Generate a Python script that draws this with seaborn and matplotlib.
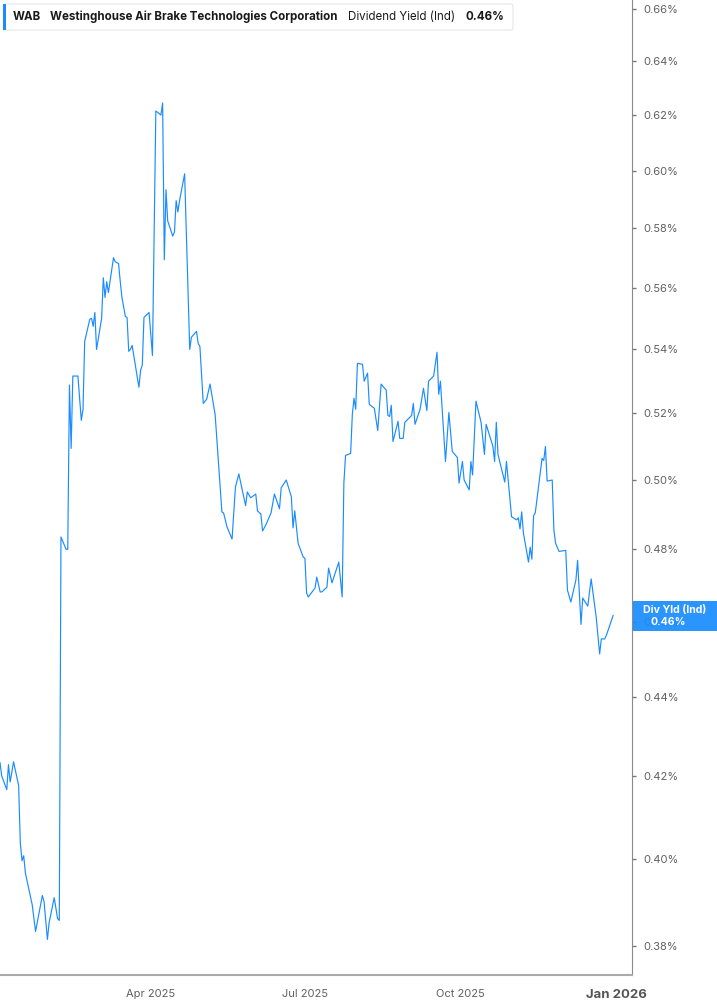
import matplotlib
matplotlib.use("Agg")
import matplotlib.pyplot as plt
import matplotlib.ticker as mticker
from matplotlib.patches import FancyBboxPatch, Rectangle
import seaborn as sns
import pandas as pd

# days since 2025-01-01 and dividend yield (%)
days = [1, 2, 5, 6, 7, 9, 12, 13, 14, 15, 16, 20, 22, 26, 27, 29, 30, 33, 35, 36,
        37, 40, 41, 42, 43, 44, 47, 49, 50, 51, 54, 55, 56, 57, 58, 61, 62, 63, 64, 65,
        68, 69, 71, 72, 73, 75, 76, 77, 78, 79, 83, 84, 85, 86, 89, 91, 93, 96, 97, 98,
        99, 100, 103, 104, 105, 106, 107, 110, 113, 114, 117, 118, 119, 121, 123, 125, 128, 132, 133, 135,
        138, 140, 142, 146, 147, 149, 152, 153, 155, 156, 158, 161, 163, 166, 167, 170, 173, 174, 175, 177,
        180, 181, 182, 183, 187, 188, 190, 191, 194, 195, 197, 201, 203, 204, 205, 208, 209, 210, 211, 212,
        215, 216, 218, 219, 222, 224, 226, 229, 230, 231, 232, 233, 236, 237, 239, 240, 244, 245, 246, 249,
        251, 253, 254, 257, 259, 260, 261, 264, 266, 268, 271, 272, 274, 275, 278, 279, 280, 282, 285, 287,
        288, 292, 293, 294, 295, 299, 300, 303, 306, 307, 308, 309, 310, 313, 314, 315, 316, 317, 321, 322,
        323, 324, 327, 328, 329, 331, 335, 336, 338, 341, 342, 344, 345, 348, 350, 353, 355, 356, 358, 359,
        363]
div_yield = [0.4233, 0.4200, 0.4166, 0.4228, 0.4185, 0.4235, 0.4176, 0.4037, 0.3995, 0.4007,
             0.3966, 0.3893, 0.3832, 0.3914, 0.3900, 0.3814, 0.3852, 0.3909, 0.3861, 0.3857,
             0.4835, 0.4800, 0.4800, 0.5288, 0.5094, 0.5316, 0.5316, 0.5179, 0.5213, 0.5426,
             0.5497, 0.5500, 0.5474, 0.5519, 0.5400, 0.5500, 0.5633, 0.5568, 0.5620, 0.5584,
             0.5700, 0.5687, 0.5680, 0.5620, 0.5568, 0.5506, 0.5503, 0.5394, 0.5400, 0.5413,
             0.5281, 0.5334, 0.5350, 0.5503, 0.5519, 0.5381, 0.6215, 0.6200, 0.6244, 0.5693,
             0.5933, 0.5825, 0.5773, 0.5787, 0.5895, 0.5856, 0.5895, 0.5989, 0.5400, 0.5439,
             0.5458, 0.5419, 0.5410, 0.5231, 0.5244, 0.5291, 0.5197, 0.4907, 0.4904, 0.4864,
             0.4829, 0.4980, 0.5018, 0.4925, 0.4965, 0.4948, 0.4959, 0.4910, 0.4901, 0.4852,
             0.4870, 0.4904, 0.4959, 0.4916, 0.4977, 0.5000, 0.4951, 0.4861, 0.4910, 0.4817,
             0.4778, 0.4775, 0.4678, 0.4667, 0.4692, 0.4722, 0.4681, 0.4681, 0.4694, 0.4747,
             0.4706, 0.4764, 0.4667, 0.4991, 0.5073, 0.5079, 0.5197, 0.5247, 0.5213, 0.5356,
             0.5353, 0.5300, 0.5325, 0.5228, 0.5216, 0.5148, 0.5291, 0.5272, 0.5194, 0.5191,
             0.5225, 0.5115, 0.5176, 0.5124, 0.5124, 0.5173, 0.5194, 0.5231, 0.5167, 0.5213,
             0.5278, 0.5209, 0.5300, 0.5316, 0.5391, 0.5259, 0.5300, 0.5055, 0.5203, 0.5085,
             0.5067, 0.4991, 0.5055, 0.5000, 0.4971, 0.5055, 0.5015, 0.5238, 0.5173, 0.5076,
             0.5167, 0.5100, 0.5055, 0.5173, 0.5076, 0.4994, 0.5055, 0.4893, 0.4884, 0.4890,
             0.4858, 0.4907, 0.4846, 0.4764, 0.4806, 0.4772, 0.4896, 0.4904, 0.5064, 0.5058,
             0.5100, 0.4997, 0.5000, 0.4855, 0.4817, 0.4794, 0.4797, 0.4686, 0.4653, 0.4714,
             0.4769, 0.4592, 0.4664, 0.4642, 0.4717, 0.4611, 0.4513, 0.4553, 0.4553, 0.4563,
             0.4617]

y_ticks = [0.38, 0.40, 0.42, 0.44, 0.46, 0.48, 0.50, 0.52, 0.54, 0.56, 0.58, 0.60, 0.62, 0.64, 0.66]
x_ticks = ["2025-04-01", "2025-07-01", "2025-10-01", "2026-01-01"]
x_labels = ["Apr 2025", "Jul 2025", "Oct 2025", "Jan 2026"]

ticker_sym = "WAB"
company = "Westinghouse Air Brake Technologies Corporation"
metric = "Dividend Yield (Ind)"
last_label = "0.46%"

start = pd.Timestamp("2025-01-01")
df = pd.DataFrame({
    "date": start + pd.to_timedelta(days, unit="D"),
    "yield": div_yield,
})

sns.set_style("white")
plt.rcParams["font.family"] = ["Inter", "DejaVu Sans"]

line_color = "#1a8cff"
tick_color = "#606060"

fig = plt.figure(figsize=(7.17, 10.05), dpi=100)
ax = fig.add_axes([0.0, 0.0299, 0.8819, 0.9701])

sns.lineplot(data=df, x="date", y="yield", ax=ax, color=line_color, linewidth=0.85)

ax.set_yscale("log")
ax.set_ylim(0.3735, 0.6635)
ax.set_xlim(start + pd.Timedelta(days=1), start + pd.Timedelta(days=374.3))

ax.yaxis.set_major_locator(mticker.FixedLocator(y_ticks))
ax.yaxis.set_minor_locator(mticker.NullLocator())
ax.yaxis.set_major_formatter(mticker.FuncFormatter(lambda v, p: f"{v:.2f}%"))
ax.yaxis.tick_right()
ax.set_xticks(pd.to_datetime(x_ticks))
ax.set_xticklabels(x_labels)
ax.xaxis.set_minor_locator(mticker.NullLocator())

ax.tick_params(axis="y", which="major", direction="out", length=3, width=1,
               color="#777777", labelsize=8, labelcolor=tick_color, pad=5)
ax.tick_params(axis="x", which="major", direction="out", length=5, width=1,
               color="#aaaaaa", labelsize=8, labelcolor=tick_color, pad=5)
last = ax.get_xticklabels()[-1]
last.set_fontweight("bold")
last.set_fontsize(9.5)
last.set_color("#555555")

for side in ["top", "left"]:
    ax.spines[side].set_visible(False)
ax.spines["right"].set_color("#8a8a8a")
ax.spines["bottom"].set_color("#aaaaaa")
ax.spines["bottom"].set_linewidth(1.5)
ax.set_xlabel("")
ax.set_ylabel("")

# header box
W, H = 717.0, 1005.0
hdr = FancyBboxPatch((4 / W, 1 - 30 / H), 509 / W, 26 / H, transform=fig.transFigure,
                     boxstyle="round,pad=0,rounding_size=0.003", facecolor="white",
                     edgecolor="#e6e6e6", linewidth=0.8, zorder=5)
fig.patches.append(hdr)
bar = Rectangle((3 / W, 1 - 30 / H), 3 / W, 26 / H, transform=fig.transFigure,
                facecolor=line_color, edgecolor="none", zorder=6)
fig.patches.append(bar)
ty = 1 - 16.5 / H
fig.text(13 / W, ty, ticker_sym, fontsize=8.3, fontweight="bold", color="#1a1a1a", va="center", zorder=7)
fig.text(50 / W, ty, company, fontsize=8.3, fontweight="bold", color="#1a1a1a", va="center", zorder=7)
fig.text(348 / W, ty, metric, fontsize=8.3, color="#1a1a1a", va="center", zorder=7)
fig.text(465 / W, ty, last_label, fontsize=8.3, fontweight="bold", color="#1a1a1a", va="center", zorder=7)

# last value tag on right axis
tag = Rectangle((633 / W, 1 - 631 / H), 84 / W, 30 / H, transform=fig.transFigure,
                facecolor=line_color, edgecolor="none", alpha=0.93, zorder=5)
fig.patches.append(tag)
fig.text(675 / W, 1 - 610.5 / H, "Div Yld (Ind)", fontsize=7.6, fontweight="bold",
         color="white", ha="center", va="center", zorder=7)
fig.text(668 / W, 1 - 621.5 / H, last_label, fontsize=7.6, fontweight="bold",
         color="white", ha="center", va="center", zorder=7)

fig.savefig("out.png", dpi=100, facecolor="white")
